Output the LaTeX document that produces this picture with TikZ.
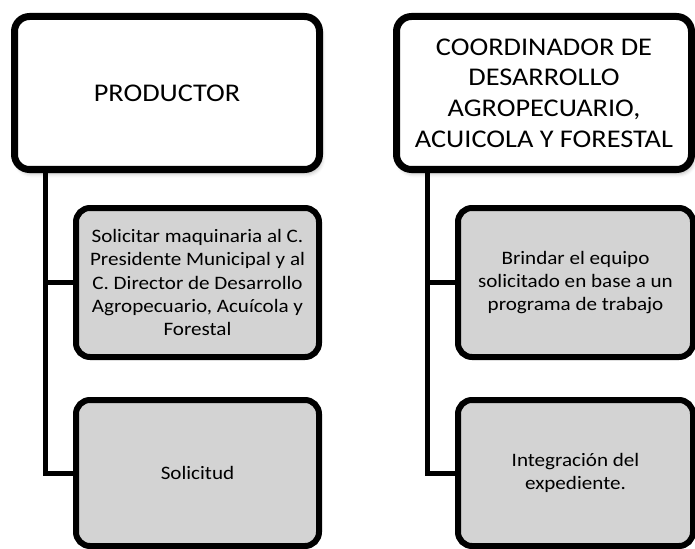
\documentclass[tikz,border=0pt]{standalone}
\usepackage[svgnames]{xcolor}
\usepackage{fontspec}
\setmainfont{Carlito}[FakeStretch=1.11]
\usetikzlibrary{shadows.blur}

\begin{document}
\begin{tikzpicture}[x=1pt,y=-1pt,
        headbox/.style={draw=black,line width=7pt,fill=white,rounded corners=15pt,
            minimum width=#1,minimum height=153pt,inner sep=0pt,align=center,
            font=\fontsize{25.5}{30.7}\selectfont,
            blur shadow={shadow xshift=2pt,shadow yshift=-4pt,shadow blur radius=4pt,shadow opacity=30}},
        taskbox/.style={draw=black,line width=6pt,fill=LightGray,rounded corners=14pt,
            minimum width=#1,inner sep=0pt,align=center,
            font=\fontsize{19}{23.3}\selectfont},
        link/.style={line width=5pt}]
        \useasboundingbox (0,0) rectangle (695,548);

        % left column
        \node[headbox=305pt] (prod) at (167,93) {PRODUCTOR};
        \node[taskbox=243pt,minimum height=149pt] (solicitar) at (197.5,282.5)
            {Solicitar maquinaria al C.\\Presidente Municipal y al\\C. Director de Desarrollo\\Agropecuario, Acuícola y\\Forestal};
        \node[taskbox=243pt,minimum height=146pt] (solicitud) at (197.5,473) {Solicitud};

        % right column
        \node[headbox=295pt] (coord) at (544,93)
            {COORDINADOR DE\\DESARROLLO\\AGROPECUARIO,\\ACUICOLA Y FORESTAL};
        \node[taskbox=235pt,minimum height=149pt] (brindar) at (575.5,282.5)
            {Brindar el equipo\\solicitado en base a un\\programa de trabajo};
        \node[taskbox=235pt,minimum height=146pt] (integra) at (575.5,473)
            {Integración del\\expediente.};

        \coordinate (ltrunk) at (45,0);
        \coordinate (rtrunk) at (427.5,0);

        \draw[link] (prod.south -| ltrunk) |- (solicitud.west);
        \draw[link] (prod.south -| ltrunk) |- (solicitar.west);
        \draw[link] (coord.south -| rtrunk) |- (integra.west);
        \draw[link] (coord.south -| rtrunk) |- (brindar.west);
    \end{tikzpicture}
\end{document}
